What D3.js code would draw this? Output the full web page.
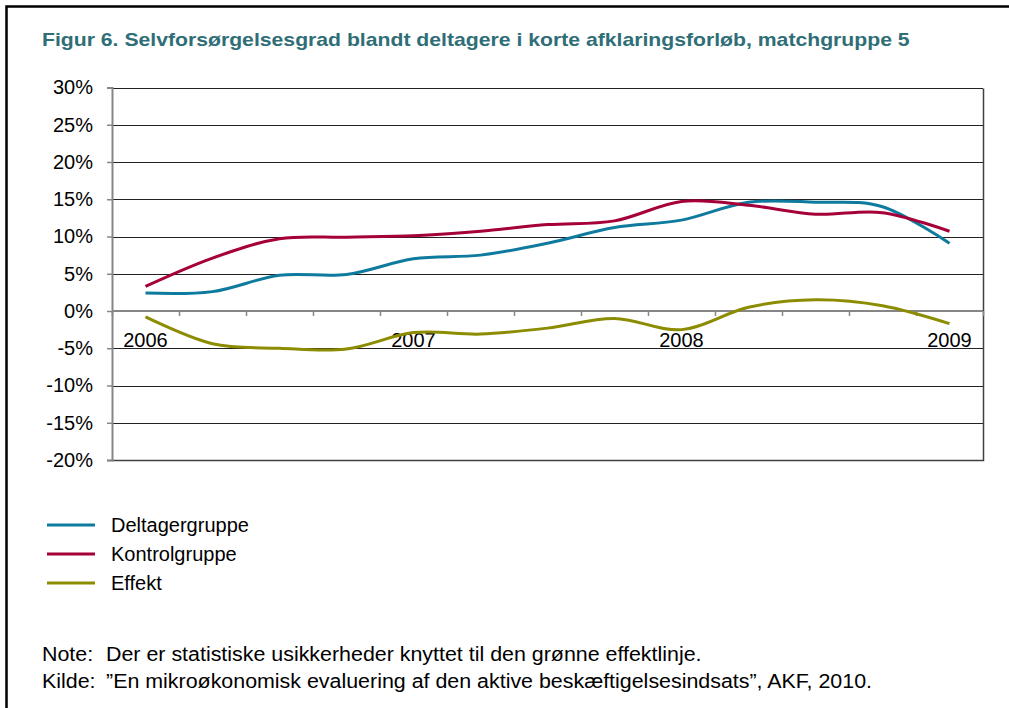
<!DOCTYPE html>
<html>
<head>
<meta charset="utf-8">
<script src="https://cdn.jsdelivr.net/npm/d3@7"></script>
<style>
  body { margin: 0; background: #fff; }
  svg { display: block; font-family: Arial, "Liberation Sans", sans-serif; }
</style>
</head>
<body>
<div id="chart"></div>
<script>
// quarterly observations, 2006 K1 .. 2009 K1
const quarters = ['2006K1', '2006K2', '2006K3', '2006K4', '2007K1', '2007K2', '2007K3', '2007K4',
                  '2008K1', '2008K2', '2008K3', '2008K4', '2009K1'];
const yearLabels = ['2006', '', '', '', '2007', '', '', '', '2008', '', '', '', '2009'];

const deltager = [2.4, 2.6, 4.8, 4.9, 7.0, 7.5, 9.1, 11.2, 12.2, 14.6, 14.6, 14.0, 9.1];
const kontrol  = [3.3, 7.1, 9.7, 9.9, 10.1, 10.7, 11.6, 12.1, 14.7, 14.2, 13.0, 13.2, 10.7];
const effekt   = [-0.8, -4.4, -5.0, -5.1, -2.9, -3.1, -2.3, -1.0, -2.5, 0.5, 1.5, 0.7, -1.7];

const yTicks = [-20, -15, -10, -5, 0, 5, 10, 15, 20, 25, 30];

const seriesNames = ['Deltagergruppe', 'Kontrolgruppe', 'Effekt'];
const seriesColors = ['#0e7a9e', '#a5003a', '#8c8c00'];

const title = 'Figur 6. Selvforsørgelsesgrad blandt deltagere i korte afklaringsforløb, matchgruppe 5';
const noteLines = [
    ['Note:', 'Der er statistiske usikkerheder knyttet til den grønne effektlinje.'],
    ['Kilde:', '”En mikroøkonomisk evaluering af den aktive beskæftigelsesindsats”, AKF, 2010.']
];

const width = 1009, height = 708;
const plot = { left: 112, right: 983, top: 87.5, bottom: 460 };

// the source figure is slightly wider than tall, so widen text a bit
function stretch(sel, k) {
    sel.each(function () {
        const len = this.getComputedTextLength();
        if (len > 0) {
            d3.select(this)
                .attr('textLength', len * k)
                .attr('lengthAdjust', 'spacingAndGlyphs');
        }
    });
}

const svg = d3.select('#chart')
    .append('svg')
    .attr('width', width)
    .attr('height', height);

// frame
svg.append('path')
    .attr('d', `M6.5,${height} V6.5 H${width}`)
    .attr('fill', 'none')
    .attr('stroke', '#000')
    .attr('stroke-width', 2.5);

svg.append('text')
    .attr('x', 42)
    .attr('y', 46)
    .attr('fill', '#2f6e77')
    .style('font-size', '19px')
    .style('font-weight', 'bold')
    .text(title)
    .call(stretch, 1.115);

const x = d3.scaleBand()
    .domain(quarters)
    .range([plot.left, plot.right]);

const y = d3.scaleLinear()
    .domain([-20, 30])
    .range([plot.bottom, plot.top]);

// gridlines
svg.append('g')
    .selectAll('line')
    .data(yTicks.filter(d => d !== 0))
    .enter()
    .append('line')
    .attr('x1', plot.left)
    .attr('x2', plot.right)
    .attr('y1', d => Math.round(y(d)) + 0.5)
    .attr('y2', d => Math.round(y(d)) + 0.5)
    .attr('stroke', '#222')
    .attr('stroke-width', 1);

// plot border right/bottom
svg.append('path')
    .attr('d', `M${plot.left},${Math.round(plot.bottom) + 0.5} H${plot.right + 0.5} V${Math.round(plot.top) + 0.5}`)
    .attr('fill', 'none')
    .attr('stroke', '#404040')
    .attr('stroke-width', 1.5);

// y axis
const yAxis = svg.append('g')
    .attr('transform', `translate(${plot.left},0)`)
    .call(d3.axisLeft(y).tickValues(yTicks).tickSize(5).tickPadding(14).tickFormat(d => d + '%'));
yAxis.select('.domain').attr('stroke', '#868686').attr('stroke-width', 2);
yAxis.selectAll('.tick line').attr('stroke', '#868686').attr('stroke-width', 1.5);
yAxis.selectAll('.tick text')
    .attr('fill', '#000')
    .style('font-size', '20px')
    .style('font-family', 'Arial, "Liberation Sans", sans-serif');

// x axis on the 0% line, ticks between categories
const xAxis = svg.append('g').attr('transform', `translate(0,${y(0)})`);
xAxis.append('line')
    .attr('x1', plot.left)
    .attr('x2', plot.right)
    .attr('stroke', '#868686')
    .attr('stroke-width', 2);
const boundaries = quarters.map(q => x(q)).concat([x.range()[1]]);
xAxis.selectAll('line.tk')
    .data(boundaries)
    .enter()
    .append('line')
    .attr('class', 'tk')
    .attr('x1', d => Math.round(d) + 0.5)
    .attr('x2', d => Math.round(d) + 0.5)
    .attr('y1', 0)
    .attr('y2', 5)
    .attr('stroke', '#868686')
    .attr('stroke-width', 1.5);
xAxis.selectAll('text')
    .data(quarters)
    .enter()
    .append('text')
    .attr('x', d => x(d) + x.bandwidth() / 2)
    .attr('y', 36)
    .attr('text-anchor', 'middle')
    .style('font-size', '20px')
    .text((d, i) => yearLabels[i]);

// series lines
const line = d3.line()
    .x((d, i) => x(quarters[i]) + x.bandwidth() / 2)
    .y(d => y(d))
    .curve(d3.curveCardinal.tension(0));

const allSeries = [deltager, kontrol, effekt];
svg.append('g')
    .selectAll('path')
    .data(allSeries)
    .enter()
    .append('path')
    .attr('d', d => line(d))
    .attr('fill', 'none')
    .attr('stroke', (d, i) => seriesColors[i])
    .attr('stroke-width', 3)
    .attr('stroke-linejoin', 'round');

// legend
const legend = svg.append('g')
    .selectAll('g')
    .data(seriesNames)
    .enter()
    .append('g')
    .attr('transform', (d, i) => `translate(47,${525 + i * 29})`);
legend.append('line')
    .attr('x1', 0)
    .attr('x2', 48)
    .attr('stroke', (d, i) => seriesColors[i])
    .attr('stroke-width', 3);
legend.append('text')
    .attr('x', 64)
    .attr('dy', '0.35em')
    .style('font-size', '20px')
    .text(d => d);

// notes
const notes = svg.append('g')
    .selectAll('g')
    .data(noteLines)
    .enter()
    .append('g')
    .attr('transform', (d, i) => `translate(0,${661 + i * 27})`);
notes.append('text')
    .attr('x', 42)
    .style('font-size', '20px')
    .text(d => d[0])
    .call(stretch, 1.07);
notes.append('text')
    .attr('x', 106)
    .style('font-size', '20px')
    .text(d => d[1])
    .call(stretch, 1.07);
</script>
</body>
</html>
